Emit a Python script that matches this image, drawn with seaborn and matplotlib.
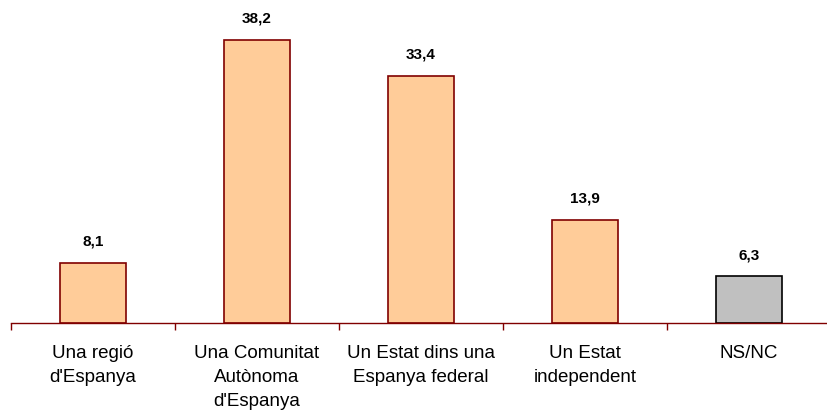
import matplotlib
matplotlib.use("Agg")
import matplotlib.pyplot as plt
import seaborn as sns
import pandas as pd

categories = ["Una regió\nd'Espanya", "Una Comunitat\nAutònoma\nd'Espanya",
              "Un Estat dins una\nEspanya federal", "Un Estat\nindependent", "NS/NC"]
values = [8.1, 38.2, 33.4, 13.9, 6.3]
value_labels = ["8,1", "38,2", "33,4", "13,9", "6,3"]

sns.set_style("white")
plt.rcParams['font.family'] = ['Liberation Sans', 'DejaVu Sans']
plt.rcParams['text.color'] = 'black'
plt.rcParams['xtick.color'] = 'black'

df = pd.DataFrame({"cat": categories, "val": values})

fig = plt.figure(figsize=(8.27, 4.14), dpi=100)
# axes spans 11px..831px horizontally, baseline at y=324px
ax = fig.add_axes([11 / 827, 90 / 414, 820 / 827, 324 / 414])

sns.barplot(data=df, x="cat", y="val", ax=ax, width=0.40,
            color="#FFCC99", edgecolor="#800000", linewidth=1.2, saturation=1)
patches = ax.patches
patches[-1].set_facecolor("#C0C0C0")
patches[-1].set_edgecolor("#000000")

for p, lab in zip(patches, value_labels):
    ax.annotate(lab, (p.get_x() + p.get_width() / 2, p.get_height()),
                xytext=(0, 11), textcoords="offset points",
                ha="center", va="bottom", fontsize=11, fontweight="bold",
                color="black")

ax.set_xlim(-0.5, 4.5)
ax.set_ylim(0, 324 / 7.41)
for s in ["top", "right", "left"]:
    ax.spines[s].set_visible(False)
ax.spines["bottom"].set_color("#800000")
ax.spines["bottom"].set_linewidth(1.0)
ax.set_yticks([])
ax.set_xlabel("")
ax.set_ylabel("")

ax.set_xticks([0, 1, 2, 3, 4])
ax.set_xticklabels(categories, fontsize=13.5, linespacing=1.55, va="top", color="black")
ax.tick_params(axis="x", length=0, pad=15)
# boundary ticks between categories
ax.set_xticks([-0.5, 0.5, 1.5, 2.5, 3.5, 4.5], minor=True)
ax.tick_params(axis="x", which="minor", length=5, color="#800000", width=1, direction="out")
ax.xaxis.set_tick_params(which="minor", bottom=True)

fig.savefig("out.png", dpi=100)
